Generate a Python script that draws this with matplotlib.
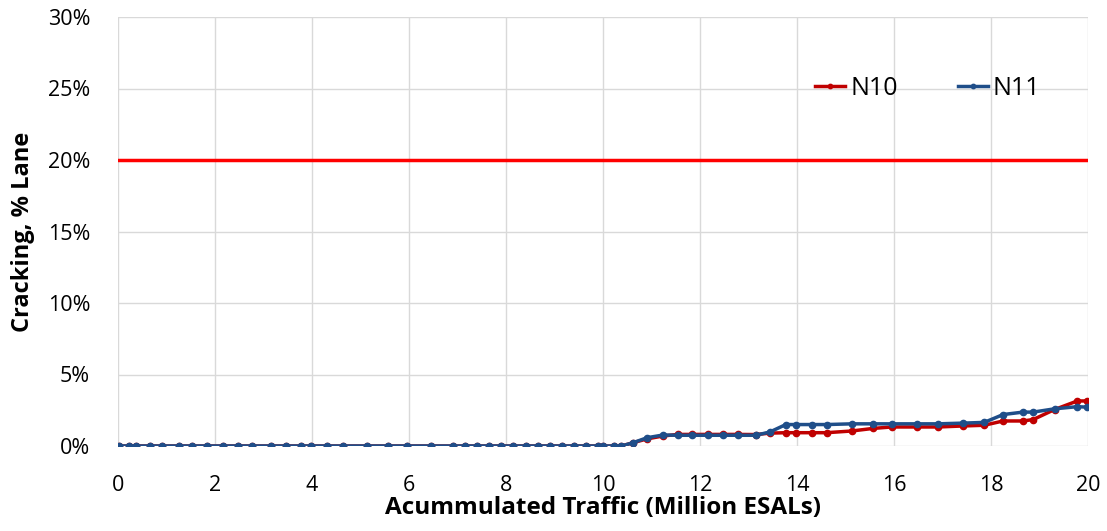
import matplotlib.pyplot as plt
from matplotlib.ticker import PercentFormatter

traffic = [0.03, 0.23, 0.37, 0.65, 0.91, 1.25, 1.53, 1.84, 2.17, 2.47, 2.77, 3.15,
           3.46, 3.77, 3.98, 4.31, 4.63, 5.14, 5.57, 5.96, 6.46, 6.90, 7.15, 7.40,
           7.64, 7.90, 8.15, 8.41, 8.66, 8.91, 9.15, 9.40, 9.65, 9.90, 10.0, 10.23,
           10.38, 10.62, 10.91, 11.24, 11.54, 11.83, 12.17, 12.48, 12.79, 13.15,
           13.44, 13.77, 13.98, 14.30, 14.61, 15.13, 15.57, 15.95, 16.47, 16.91,
           17.42, 17.86, 18.25, 18.66, 18.87, 19.31, 19.78, 19.97]

n_zero = 37  # points sitting at 0% before cracking starts

n10 = [0.0] * n_zero + [0.23, 0.50, 0.70, 0.81, 0.81, 0.81, 0.81, 0.81, 0.80,
                        0.90, 0.93, 0.93, 0.93, 0.93, 1.05, 1.23, 1.33, 1.33,
                        1.33, 1.40, 1.45, 1.75, 1.75, 1.85, 2.55, 3.15, 3.15]
n11 = [0.0] * n_zero + [0.23, 0.58, 0.77, 0.75, 0.75, 0.75, 0.75, 0.75, 0.75,
                        0.98, 1.50, 1.50, 1.50, 1.50, 1.55, 1.55, 1.55, 1.55,
                        1.55, 1.60, 1.65, 2.20, 2.37, 2.37, 2.60, 2.75, 2.72]

limit = 20

plt.rcParams['font.family'] = ['Open Sans', 'DejaVu Sans']

fig = plt.figure(figsize=(11.07, 5.31), dpi=100)
ax = fig.add_axes([118 / 1107, 85 / 531, 970 / 1107, 429 / 531])

ax.axhline(limit, color='#FF0000', lw=2.5, zorder=2)
ax.plot(traffic, n10, color='#C00000', lw=2.5, marker='o', ms=4.5, label='N10', zorder=3)
ax.plot(traffic, n11, color='#1F4E89', lw=2.5, marker='o', ms=4.5, label='N11', zorder=4)

ax.set_xlim(0, 20)
ax.set_ylim(0, 30)
ax.set_xticks(range(0, 21, 2))
ax.set_yticks(range(0, 31, 5))
ax.yaxis.set_major_formatter(PercentFormatter(decimals=0))
ax.grid(True, color='#D9D9D9', lw=1)
ax.set_axisbelow(True)
for s in ax.spines.values():
    s.set_visible(False)
ax.tick_params(length=0, labelsize=15.5)
ax.tick_params(axis='x', pad=21)
ax.tick_params(axis='y', pad=20)

ax.set_xlabel('Acummulated Traffic (Million ESALs)', fontsize=17.5, fontweight='bold', labelpad=0)
ax.set_ylabel('Cracking, % Lane', fontsize=17, fontweight='bold', labelpad=9)

ax.legend(loc='center right', bbox_to_anchor=(0.974, 25 / 30), ncol=2, frameon=False,
          fontsize=18, handlelength=1.2, handletextpad=0.2, columnspacing=2.4,
          markerscale=0.7)

fig.savefig('out.png', dpi=100)
